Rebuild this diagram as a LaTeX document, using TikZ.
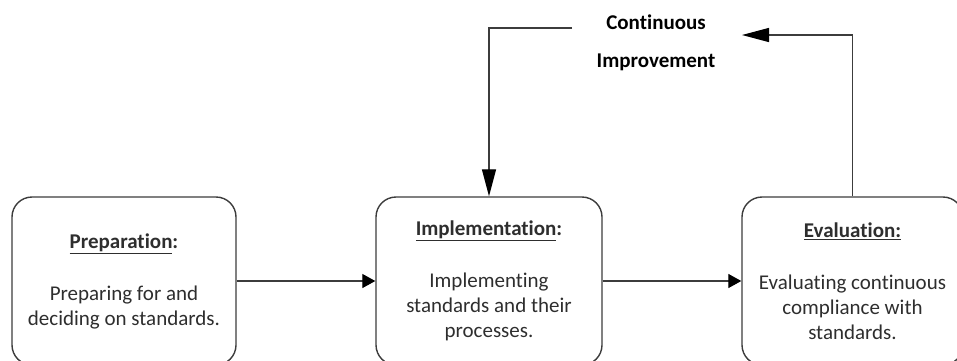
\documentclass[tikz,border=0pt]{standalone}
\usepackage{fontspec}
\setmainfont{Carlito}[Ligatures=NoCommon]
\usetikzlibrary{arrows.meta}
\definecolor{ink}{HTML}{2E2E2E}
\definecolor{edge}{HTML}{3C3C3C}
\begin{document}
\begin{tikzpicture}[x=1pt,y=-1pt,
  stage/.style={draw=edge, line width=1.4pt, rounded corners=20pt,
    minimum height=168pt, inner sep=4pt, align=center, text=ink,
    font=\fontsize{21}{25}\selectfont},
  flow/.style={draw=edge, line width=1.3pt,
    -{Triangle[length=13pt,width=14pt,color=black]}},
  loop/.style={draw=edge, line width=1.3pt},
  looptip/.style={loop, -{Triangle[length=27pt,width=14pt,color=black]}},
  caption/.style={font=\fontsize{21}{25}\bfseries\selectfont, align=center, text=black}]
\useasboundingbox (0,0) rectangle (957,360);

% the three stages
\node[stage, minimum width=224pt] (prep) at (124,281)
  {\textbf{\underline{Preparation}:}\\[27pt]Preparing for and\\deciding on standards.};
\node[stage, minimum width=226pt] (impl) at (489,281)
  {\textbf{\underline{Implementation}:}\\[27pt]Implementing\\standards and their\\processes.};
\node[stage, minimum width=221pt] (eval) at (852.5,281)
  {\textbf{\underline{Evaluation:}}\\[27pt]Evaluating continuous\\compliance with\\standards.};

% forward flow
\draw[flow] (prep.east) -- (impl.west);
\draw[flow] (impl.east) -- (eval.west);

% feedback loop
\node[caption] (cont) at (656,43) {Continuous\\[13pt]Improvement};
\coordinate (loopin) at (742,35);
\coordinate (loopout) at (572,28);
\draw[looptip] (eval.north) -- (eval.north |- loopin) -- (loopin);
\draw[looptip] (loopout) -- (loopout -| impl.north) -- (impl.north);
\end{tikzpicture}
\end{document}
